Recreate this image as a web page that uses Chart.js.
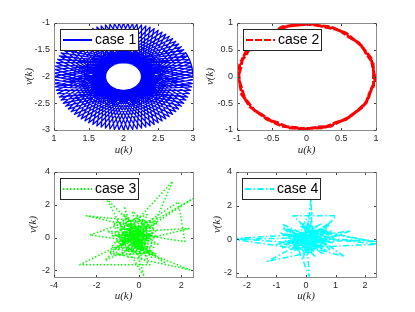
<!DOCTYPE html>
<html>
<head>
<meta charset="utf-8">
<title>case 1 - case 4</title>
<script src="https://cdn.jsdelivr.net/npm/chart.js@4.4.1/dist/chart.umd.min.js"></script>
<style>
  body { margin: 0; background: #fff; }
  #fig { position: relative; width: 415px; height: 312px; background: #fff; overflow: hidden; }
  #fig canvas { position: absolute; }
</style>
</head>
<body>
<div id="fig">
  <canvas id="chart1"></canvas>
  <canvas id="chart2"></canvas>
  <canvas id="chart3"></canvas>
  <canvas id="chart4"></canvas>
</div>
<script>
// Dados das quatro trajetórias (u(k), v(k))
const caseLabels = ["case 1", "case 2", "case 3", "case 4"];

// case 1: estrela densa em torno de (2, -2)
const u1 = [
  3.000, 1.134, 2.500, 2.000, 1.500, 2.866, 1.000, 2.866, 1.500, 2.000, 2.500, 1.134, 3.000,
  2.998, 1.103, 2.556, 1.935, 1.558, 2.831, 1.002, 2.897, 1.444, 2.065, 2.442, 1.169, 2.998,
  2.991, 1.076, 2.609, 1.869, 1.617, 2.793, 1.009, 2.924, 1.391, 2.131, 2.383, 1.207, 2.991,
  2.981, 1.053, 2.659, 1.805, 1.679, 2.752, 1.019, 2.947, 1.341, 2.195, 2.321, 1.248, 2.981,
  2.966, 1.034, 2.707, 1.741, 1.741, 2.707, 1.034, 2.966, 1.293, 2.259, 2.259, 1.293, 2.966,
  2.947, 1.019, 2.752, 1.679, 1.805, 2.659, 1.053, 2.981, 1.248, 2.321, 2.195, 1.341, 2.947,
  2.924, 1.009, 2.793, 1.617, 1.869, 2.609, 1.076, 2.991, 1.207, 2.383, 2.131, 1.391, 2.924,
  2.897, 1.002, 2.831, 1.558, 1.935, 2.556, 1.103, 2.998, 1.169, 2.442, 2.065, 1.444, 2.897
];
const v1 = [
  -2.000, -1.500, -2.866, -1.000, -2.866, -1.500, -2.000, -2.500, -1.134, -3.000, -1.134, -2.500, -2.000,
  -1.935, -1.558, -2.831, -1.002, -2.897, -1.444, -2.065, -2.442, -1.169, -2.998, -1.103, -2.556, -1.935,
  -1.869, -1.617, -2.793, -1.009, -2.924, -1.391, -2.131, -2.383, -1.207, -2.991, -1.076, -2.609, -1.869,
  -1.805, -1.679, -2.752, -1.019, -2.947, -1.341, -2.195, -2.321, -1.248, -2.981, -1.053, -2.659, -1.805,
  -1.741, -1.741, -2.707, -1.034, -2.966, -1.293, -2.259, -2.259, -1.293, -2.966, -1.034, -2.707, -1.741,
  -1.679, -1.805, -2.659, -1.053, -2.981, -1.248, -2.321, -2.195, -1.341, -2.947, -1.019, -2.752, -1.679,
  -1.617, -1.869, -2.609, -1.076, -2.991, -1.207, -2.383, -2.131, -1.391, -2.924, -1.009, -2.793, -1.617,
  -1.558, -1.935, -2.556, -1.103, -2.998, -1.169, -2.442, -2.065, -1.444, -2.897, -1.002, -2.831, -1.558
];

// case 2: círculo com ruído (duas voltas)
const u2 = [
  0.980, 0.955, 0.931, 0.840, 0.751, 0.617, 0.490, 0.339, 0.169, 0.000, -0.169, -0.339,
  -0.480, -0.630, -0.743, -0.857, -0.921, -0.946, -0.980, -0.955, -0.931, -0.840, -0.751, -0.617,
  -0.490, -0.339, -0.169, 0.000, 0.167, 0.339, 0.485, 0.630, 0.743, 0.857, 0.902, 0.965,
  0.966, 0.956, 0.870, 0.803, 0.686, 0.568, 0.415, 0.249, 0.086, -0.084, -0.254, -0.406,
  -0.568, -0.686, -0.803, -0.870, -0.956, -0.976, -0.966, -0.927, -0.888, -0.811, -0.686, -0.563,
  -0.406, -0.256, -0.085, 0.084, 0.256, 0.406, 0.563, 0.686, 0.811, 0.888, 0.927, 0.986, 0.980
];
const v2 = [
  0.000, 0.169, 0.339, 0.485, 0.630, 0.735, 0.849, 0.931, 0.955, 0.980, 0.955, 0.931,
  0.831, 0.751, 0.624, 0.495, 0.335, 0.167, 0.000, -0.169, -0.339, -0.485, -0.630, -0.735,
  -0.849, -0.931, -0.955, -0.980, -0.946, -0.931, -0.840, -0.751, -0.624, -0.495, -0.328, -0.171,
  0.084, 0.256, 0.406, 0.563, 0.686, 0.811, 0.888, 0.927, 0.986, 0.966, 0.947, 0.870,
  0.811, 0.686, 0.563, 0.406, 0.256, 0.085, -0.084, -0.249, -0.415, -0.568, -0.686, -0.803,
  -0.870, -0.956, -0.976, -0.966, -0.956, -0.870, -0.803, -0.686, -0.568, -0.415, -0.249, -0.086, 0.000
];

// case 3: trajetória caótica (verde)
const u3 = [
  -0.3, 0.4, -0.9, 0.2, -0.6, 0.7, -1.1, 0.1, -0.2, 1.59,
  0.3, -0.8, 0.5, -0.5, -1.2, 0.6, -0.1, 2.56, -0.9, 0.0,
  -0.4, 0.8, -1.5, 0.2, -0.7, 0.4, -0.3, -2.47, 0.9, -0.6,
  0.1, -1.0, 0.5, -0.2, -1.53, 0.3, -0.8, 0.7, -0.4, 0.0,
  2.4, -1.1, 0.2, -0.5, 0.6, -1.3, -0.1, 0.4, -0.7, 0.52,
  -2.78, -0.2, 0.5, -0.9, 0.1, -0.3, 0.8, -0.6, 0.25, -0.4,
  0.3, -1.0, 0.6, -0.2, 2.4, -1.4, 0.0, -0.5, 0.9, -0.8,
  0.2, -2.31, 0.4, -0.3, 0.7, -0.6, 0.1, -1.2, 0.5, -0.1,
  2.17, 1.86, -0.7, 0.3, -0.4, 0.0, -1.0, 0.6, -0.2, -1.6,
  0.9, -0.5, 0.2, -0.8, 0.4, -0.3, 1.2, -0.9, 0.1, -0.6,
  0.3, -1.1, 0.5, -0.1, -0.7, 0.0, -0.4, 0.6, -1.3, 0.2
];
const v3 = [
  0.1, -0.6, 0.5, 1.1, -0.8, 0.3, -0.2, -1.1, 0.9, 3.43,
  -0.4, 0.2, 0.8, -1.2, 0.9, -0.3, 0.4, 2.38, -0.5, 0.6,
  -0.3, -1.0, 0.4, 0.2, 1.4, -1.3, 0.7, 1.33, 0.9, -0.1,
  -0.7, 1.0, 0.1, -0.9, 2.38, 0.0, -1.0, 1.2, 0.3, -0.2,
  0.56, 0.3, -0.5, 0.6, -0.8, -0.6, 1.3, 0.5, -0.4, -1.65,
  -1.65, 0.0, -0.2, 0.8, -1.0, 1.6, 0.4, -0.6, -2.36, 0.5,
  0.9, -0.3, 0.2, -0.6, -1.96, -0.9, 0.3, -0.2, -0.4, 1.1,
  -0.3, 0.16, 1.4, -0.5, -0.6, 0.4, 0.7, -1.1, -0.9, 0.2,
  -0.24, 2.17, 0.0, 0.4, -1.0, 1.0, 0.6, -1.2, 0.5, -1.4,
  0.1, 0.2, -0.8, -0.2, 0.7, -0.1, -1.5, 0.1, 0.5, 0.9,
  -1.0, -0.7, 0.4, -0.4, 1.9, -0.5, 0.0, 0.6, 0.1, 0.1
];

// case 4: trajetória caótica (ciano)
const u4 = [
  0.1, -0.3, 0.5, -0.6, 0.3, -2.45, 0.4, -0.2, 0.7, -0.5,
  0.2, 0.17, 0.0, 0.9, -0.4, 0.3, -0.8, 0.6, -0.1, 2.45,
  -0.3, 0.5, -0.6, 0.1, -1.3, 0.4, -0.2, 0.8, -0.43, 1.02,
  0.2, -0.5, 0.11, 0.0, 0.6, -0.7, 1.3, 0.3, -0.1, 2.03,
  -0.4, 0.7, -0.2, 0.4, -0.9, 0.1, 0.2, -0.3, 0.5, 2.45,
  -0.6, 0.9, -0.1, -2.45, 0.3, 0.8, -0.5, 0.0, 0.6, -0.2,
  1.0, -0.8, 0.2, 0.4, -0.3, 0.7, -0.6, 0.1, 1.5, -0.4,
  0.3, -0.1, 0.8, -0.7, 0.5, -1.0, 0.2, 0.9, -0.2, 0.4,
  -0.5, 0.6, 0.0, -0.8, 0.3
];
const v4 = [
  0.2, -0.4, 0.6, 0.1, -0.7, 0.0, 0.1, 0.8, -0.3, -0.6,
  0.4, 2.41, -0.1, 0.5, 0.3, -1.0, 0.7, 0.0, -0.5, -0.29,
  0.2, 0.9, -0.3, -0.8, -1.31, 0.3, 1.0, -0.6, 1.4, 1.4,
  -0.2, 0.5, -2.2, 0.6, -0.4, -0.1, -1.02, 0.2, 0.7, -0.04,
  -0.2, 0.7, -0.9, -0.5, 0.4, 0.0, 1.6, -0.7, 0.4, -0.15,
  0.2, -0.2, 0.3, 0.05, -0.3, 0.9, -0.8, 1.2, -0.9, 0.1,
  0.2, -0.5, 0.8, -0.1, 0.5, -0.7, 0.6, -0.4, 0.5, 0.0,
  0.6, -1.1, 0.1, 0.3, -0.2, -0.3, 0.3, 1.1, -0.3, 0.8,
  -0.1, 0.3, -0.6, 0.9, 0.0
];

// Marcas dos eixos
const xTicks1 = [1, 1.5, 2, 2.5, 3];
const yTicks1 = [-3, -2.5, -2, -1.5, -1];
const xTicks2 = [-1, -0.5, 0, 0.5, 1];
const yTicks2 = [-1, -0.5, 0, 0.5, 1];
const xTicks3 = [-4, -2, 0, 2];
const yTicks3 = [-2, 0, 2, 4];
const xTicks4 = [-2, -1, 0, 1, 2];
const yTicks4 = [-2, 0, 2, 4];

const tickFont = { family: "'Liberation Sans', Arial, sans-serif", size: 9 };
const titleFont = { family: "'Liberation Serif', 'Times New Roman', serif", size: 11, style: "italic" };
const titleHalf = 11 * 1.2 / 2;

// Caixa dos eixos, ticks para dentro e legenda no canto superior esquerdo
const framePlugin = {
  id: "frame",
  afterDatasetsDraw(chart) {
    const { ctx, chartArea: a, scales: { x, y } } = chart;
    ctx.save();
    ctx.strokeStyle = "#8c8c8c";
    ctx.lineWidth = 1;
    ctx.strokeRect(a.left + 0.5, a.top + 0.5, a.right - a.left, a.bottom - a.top);
    ctx.strokeStyle = "#404040";
    ctx.beginPath();
    for (const t of x.ticks) {
      const px = Math.round(x.getPixelForValue(t.value)) + 0.5;
      ctx.moveTo(px, a.bottom); ctx.lineTo(px, a.bottom - 2);
      ctx.moveTo(px, a.top + 1); ctx.lineTo(px, a.top + 3);
    }
    for (const t of y.ticks) {
      const py = Math.round(y.getPixelForValue(t.value)) + 0.5;
      ctx.moveTo(a.left + 1, py); ctx.lineTo(a.left + 3, py);
      ctx.moveTo(a.right, py); ctx.lineTo(a.right - 2, py);
    }
    ctx.stroke();
    ctx.restore();
  },
  afterDraw(chart) {
    const { ctx, chartArea: a } = chart;
    const ds = chart.data.datasets[0];
    const bx = a.left + 6, by = a.top + 6, bw = 78, bh = 21;
    ctx.save();
    ctx.fillStyle = "#fff";
    ctx.fillRect(bx, by, bw, bh);
    ctx.strokeStyle = "#262626";
    ctx.lineWidth = 1;
    ctx.strokeRect(bx + 0.5, by + 0.5, bw, bh);
    ctx.strokeStyle = ds.borderColor;
    ctx.lineWidth = 2;
    ctx.setLineDash(ds.borderDash || []);
    ctx.beginPath();
    ctx.moveTo(bx + 3, by + bh / 2 + 0.5);
    ctx.lineTo(bx + 32, by + bh / 2 + 0.5);
    ctx.stroke();
    ctx.setLineDash([]);
    ctx.fillStyle = "#000";
    ctx.font = "14px 'Liberation Sans', Arial, sans-serif";
    ctx.textBaseline = "middle";
    ctx.fillText(ds.label, bx + 35, by + bh / 2 + 1);
    ctx.restore();
  }
};

function makePanel(id, place, u, v, label, style, xr, yr, xt, yt) {
  const canvas = document.getElementById(id);
  canvas.width = place.width;
  canvas.height = place.height;
  canvas.style.left = place.left + "px";
  canvas.style.top = place.top + "px";

  const [bl, bt, br, bb] = place.box;
  const padL = place.yTitleX - place.left - titleHalf;
  const padB = place.top + place.height - place.xTitleY - titleHalf;
  const yW = bl - place.left - padL;
  const xH = place.xTitleY + titleHalf - bb;

  return new Chart(canvas, {
    type: "scatter",
    data: {
      datasets: [{
        label: label,
        data: u.map((x, i) => ({ x: x, y: v[i] })),
        showLine: true,
        pointRadius: 0,
        borderColor: style.color,
        borderWidth: style.width,
        borderDash: style.dash,
        borderJoinStyle: "round",
        tension: 0,
        clip: 0
      }]
    },
    options: {
      responsive: false,
      animation: false,
      events: [],
      layout: {
        padding: { left: padL, top: bt - place.top, right: place.left + place.width - br, bottom: padB }
      },
      scales: {
        x: {
          type: "linear",
          min: xr[0],
          max: xr[1],
          afterBuildTicks: (s) => { s.ticks = xt.map((t) => ({ value: t })); },
          afterFit: (s) => { s.height = xH; },
          grid: { display: false, drawTicks: false },
          border: { display: false },
          ticks: { padding: 3, color: "#262626", font: tickFont, maxRotation: 0, autoSkip: false,
                   callback: (val) => String(val) },
          title: { display: true, text: "u(k)", padding: 0, color: "#262626", font: titleFont }
        },
        y: {
          type: "linear",
          min: yr[0],
          max: yr[1],
          afterBuildTicks: (s) => { s.ticks = yt.map((t) => ({ value: t })); },
          afterFit: (s) => { s.width = yW; },
          grid: { display: false, drawTicks: false },
          border: { display: false },
          ticks: { padding: 4, color: "#262626", font: tickFont, autoSkip: false,
                   callback: (val) => String(val) },
          title: { display: true, text: "v(k)", padding: 0, color: "#262626", font: titleFont }
        }
      },
      plugins: {
        legend: { display: false },
        tooltip: { enabled: false }
      }
    },
    plugins: [framePlugin]
  });
}

makePanel("chart1",
  { left: 0, top: 0, width: 200, height: 160, box: [54, 23, 193, 130], yTitleX: 29.5, xTitleY: 150.5 },
  u1, v1, caseLabels[0], { color: "#0000ff", width: 1.3, dash: [] },
  [1, 3], [-3, -1], xTicks1, yTicks1);

makePanel("chart2",
  { left: 198, top: 0, width: 217, height: 160, box: [237, 23, 376, 130], yTitleX: 210.5, xTitleY: 150.5 },
  u2, v2, caseLabels[1], { color: "#ff0000", width: 3, dash: [7, 2] },
  [-1, 1], [-1, 1], xTicks2, yTicks2);

makePanel("chart3",
  { left: 0, top: 160, width: 200, height: 152, box: [54, 172, 193, 277], yTitleX: 33, xTitleY: 296.5 },
  u3, v3, caseLabels[2], { color: "#00ff00", width: 1.5, dash: [1.5, 2] },
  [-4, 2.55], [-2.4, 4], xTicks3, yTicks3);

makePanel("chart4",
  { left: 198, top: 160, width: 217, height: 152, box: [236, 172, 376, 277], yTitleX: 217.5, xTitleY: 296.5 },
  u4, v4, caseLabels[3], { color: "#00ffff", width: 1.5, dash: [6, 2.5, 1.5, 2.5] },
  [-2.37, 2.37], [-2.24, 4], xTicks4, yTicks4);
</script>
</body>
</html>
